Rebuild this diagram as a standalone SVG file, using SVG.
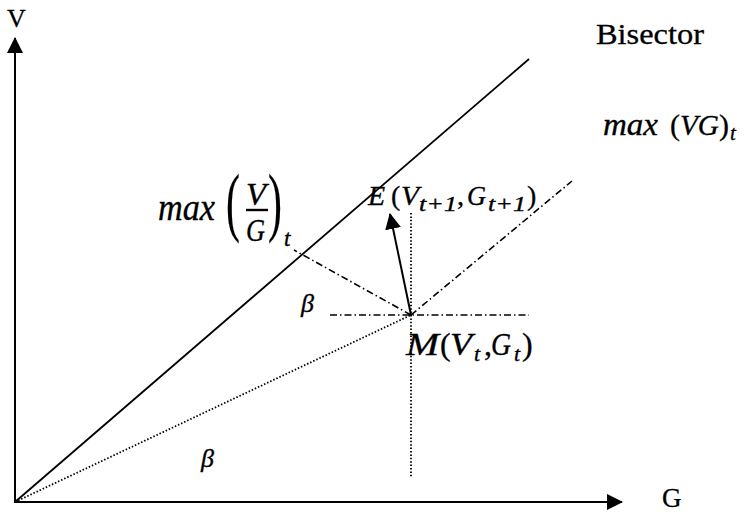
<svg xmlns="http://www.w3.org/2000/svg" width="751" height="515" viewBox="0 0 751 515">
<style>
.ax{stroke:#000;stroke-width:2;fill:none}
.bis{stroke:#000;stroke-width:1.8;fill:none}
.dd{stroke:#000;stroke-width:1.6;fill:none;stroke-dasharray:7 3 1.5 3}
.dot{stroke:#000;stroke-width:1.8;fill:none;stroke-dasharray:1.5 1.9}
.lab{font-family:"Liberation Serif",serif;fill:#000}
.m{font-family:"Liberation Serif",serif;font-style:italic;fill:#000;stroke:#000;stroke-width:0.35}
.u{font-family:"Liberation Serif",serif;fill:#000;stroke:#000;stroke-width:0.3}
</style>
<defs>
<marker id="ah" viewBox="0 0 16 16" refX="15" refY="8" markerWidth="16" markerHeight="16" markerUnits="userSpaceOnUse" orient="auto">
<path d="M0,0 L16,8 L0,16 Z" fill="#000"/>
</marker>
</defs>
<g id="connectors">
<line class="ax" x1="15" y1="503" x2="15" y2="38" marker-end="url(#ah)"/>
<line class="ax" x1="14" y1="502" x2="622" y2="502" marker-end="url(#ah)"/>
<line class="bis" x1="15" y1="502" x2="529" y2="59"/>
<line class="dot" x1="15" y1="502" x2="411" y2="315"/>
<line class="dot" x1="411" y1="213" x2="411" y2="478"/>
<line class="dd" x1="330" y1="315" x2="529" y2="315"/>
<line class="dd" x1="411" y1="315" x2="572" y2="181"/>
<line class="dd" x1="411" y1="315" x2="294" y2="250"/>
<line class="ax" x1="411" y1="315" x2="390" y2="214" marker-end="url(#ah)"/>
</g>
<g id="axis-labels">
<text class="lab" x="7" y="27" font-size="26" stroke="#000" stroke-width="0.3">V</text>
<text class="lab" x="662" y="507" font-size="27" stroke="#000" stroke-width="0.3">G</text>
</g>
<g id="bisector-label">
<text class="lab" x="596" y="44" font-size="29" textLength="108" lengthAdjust="spacingAndGlyphs" stroke="#000" stroke-width="0.3">Bisector</text>
</g>
<g id="max-VG">
<text class="m" x="603" y="135" font-size="31" textLength="55" lengthAdjust="spacingAndGlyphs">max</text>
<text class="u" x="670" y="135" font-size="30">(</text>
<text class="m" x="680" y="135" font-size="30" textLength="39" lengthAdjust="spacingAndGlyphs">VG</text>
<text class="u" x="719" y="135" font-size="30">)</text>
<text class="m" x="730" y="140" font-size="21">t</text>
</g>
<g id="max-V-over-G">
<text class="m" x="158" y="220" font-size="38" textLength="57" lengthAdjust="spacingAndGlyphs">max</text>
<text class="u" transform="translate(226,227) scale(0.55,1)" font-size="76">(</text>
<text class="m" x="246" y="205" font-size="32" textLength="20" lengthAdjust="spacingAndGlyphs">V</text>
<line x1="246" y1="210" x2="268" y2="210" stroke="#000" stroke-width="2.4"/>
<text class="m" x="246" y="241" font-size="32" textLength="19" lengthAdjust="spacingAndGlyphs">G</text>
<text class="u" transform="translate(268,227) scale(0.55,1)" font-size="76">)</text>
<text class="m" x="284" y="246" font-size="23">t</text>
</g>
<g id="E-point">
<text class="m" x="368" y="205" font-size="28">E</text>
<text class="u" x="391" y="205" font-size="28">(</text>
<text class="m" x="401" y="205" font-size="28" textLength="18" lengthAdjust="spacingAndGlyphs">V</text>
<text class="m" x="419" y="211" font-size="20" textLength="38" lengthAdjust="spacingAndGlyphs">t+1</text>
<text class="u" x="457" y="205" font-size="28">,</text>
<text class="m" x="467" y="205" font-size="28" textLength="19" lengthAdjust="spacingAndGlyphs">G</text>
<text class="m" x="488" y="211" font-size="20" textLength="38" lengthAdjust="spacingAndGlyphs">t+1</text>
<text class="u" x="527" y="205" font-size="28">)</text>
</g>
<g id="M-point">
<text class="m" x="406" y="355" font-size="32" textLength="33" lengthAdjust="spacingAndGlyphs">M</text>
<text class="u" x="440" y="355" font-size="32">(</text>
<text class="m" x="450" y="355" font-size="32" textLength="22" lengthAdjust="spacingAndGlyphs">V</text>
<text class="m" x="474" y="361" font-size="22">t</text>
<text class="u" x="484" y="355" font-size="32">,</text>
<text class="m" x="491" y="355" font-size="32" textLength="20" lengthAdjust="spacingAndGlyphs">G</text>
<text class="m" x="514" y="361" font-size="22">t</text>
<text class="u" x="522" y="355" font-size="32">)</text>
</g>
<g id="beta-labels">
<text class="m" x="301" y="312" font-size="26">β</text>
<text class="m" x="201" y="467" font-size="26">β</text>
</g>
</svg>
